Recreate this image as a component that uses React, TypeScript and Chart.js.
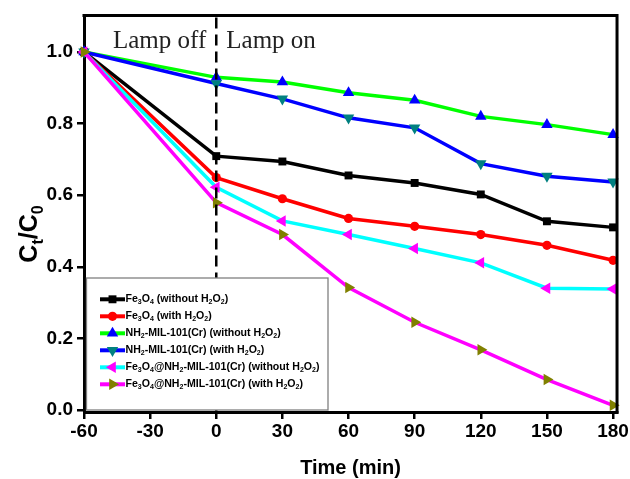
import { useEffect, useRef } from 'react';
import { Chart, registerables } from 'chart.js';

Chart.register(...registerables);

// ---------- data ----------
const times = [-60, 0, 30, 60, 90, 120, 150, 180];
const fe3o4Without = [1.0, 0.709, 0.694, 0.655, 0.634, 0.602, 0.527, 0.51];
const fe3o4With = [1.0, 0.649, 0.59, 0.535, 0.513, 0.49, 0.46, 0.418];
const milWithout = [1.0, 0.929, 0.916, 0.886, 0.865, 0.82, 0.797, 0.769];
const milWith = [1.0, 0.912, 0.869, 0.816, 0.788, 0.688, 0.653, 0.637];
const compositeWithout = [1.0, 0.622, 0.528, 0.49, 0.451, 0.411, 0.34, 0.338];
const compositeWith = [1.0, 0.579, 0.49, 0.342, 0.245, 0.168, 0.085, 0.013];

const xTicks = [-60, -30, 0, 30, 60, 90, 120, 150, 180];
const yTicks = [0, 0.2, 0.4, 0.6, 0.8, 1.0];

// legend labels as [text, isSubscript] segments
type Seg = [string, boolean];
const legendLabels: Seg[][] = [
  [['Fe', false], ['3', true], ['O', false], ['4', true], [' (without H', false], ['2', true], ['O', false], ['2', true], [')', false]],
  [['Fe', false], ['3', true], ['O', false], ['4', true], [' (with H', false], ['2', true], ['O', false], ['2', true], [')', false]],
  [['NH', false], ['2', true], ['-MIL-101(Cr) (without H', false], ['2', true], ['O', false], ['2', true], [')', false]],
  [['NH', false], ['2', true], ['-MIL-101(Cr) (with H', false], ['2', true], ['O', false], ['2', true], [')', false]],
  [['Fe', false], ['3', true], ['O', false], ['4', true], ['@NH', false], ['2', true], ['-MIL-101(Cr) (without H', false], ['2', true], ['O', false], ['2', true], [')', false]],
  [['Fe', false], ['3', true], ['O', false], ['4', true], ['@NH', false], ['2', true], ['-MIL-101(Cr) (with H', false], ['2', true], ['O', false], ['2', true], [')', false]],
];
const yTitle: Seg[] = [['C', false], ['t', true], ['/C', false], ['0', true]];
const xTitle = 'Time (min)';
const lampOff = 'Lamp off';
const lampOn = 'Lamp on';

const seriesValues = [fe3o4Without, fe3o4With, milWithout, milWith, compositeWithout, compositeWith];

// ---------- styles ----------
type Style = { line: string; marker: string; shape: 'rect' | 'circle' | 'triangle'; rot: number; r: number };
const styles: Style[] = [
  { line: '#000000', marker: '#000000', shape: 'rect', rot: 0, r: 5.6 },
  { line: '#ff0000', marker: '#ff0000', shape: 'circle', rot: 0, r: 4.6 },
  { line: '#00ff00', marker: '#0000ff', shape: 'triangle', rot: 0, r: 6.6 },
  { line: '#0000ff', marker: '#008080', shape: 'triangle', rot: 180, r: 6.6 },
  { line: '#00ffff', marker: '#ff00ff', shape: 'triangle', rot: 270, r: 6.6 },
  { line: '#ff00ff', marker: '#808000', shape: 'triangle', rot: 90, r: 6.6 },
];

const SANS = '"Liberation Sans", Arial, sans-serif';
const SERIF = '"Liberation Serif", "Times New Roman", serif';

function drawMarker(ctx: CanvasRenderingContext2D, s: Style, x: number, y: number) {
  ctx.fillStyle = s.marker;
  ctx.beginPath();
  if (s.shape === 'rect') {
    const h = s.r * Math.SQRT1_2;
    ctx.rect(x - h, y - h, 2 * h, 2 * h);
  } else if (s.shape === 'circle') {
    ctx.arc(x, y, s.r, 0, Math.PI * 2);
  } else {
    let a = (s.rot * Math.PI) / 180;
    ctx.moveTo(x + Math.sin(a) * s.r, y - Math.cos(a) * s.r);
    a += (2 * Math.PI) / 3;
    ctx.lineTo(x + Math.sin(a) * s.r, y - Math.cos(a) * s.r);
    a += (2 * Math.PI) / 3;
    ctx.lineTo(x + Math.sin(a) * s.r, y - Math.cos(a) * s.r);
    ctx.closePath();
  }
  ctx.fill();
}

function segWidth(ctx: CanvasRenderingContext2D, segs: Seg[], main: string, sub: string) {
  let w = 0;
  for (const [t, isSub] of segs) {
    ctx.font = isSub ? sub : main;
    w += ctx.measureText(t).width;
  }
  return w;
}

function drawSegs(ctx: CanvasRenderingContext2D, segs: Seg[], x: number, y: number, main: string, sub: string, subOffset: number) {
  let cx = x;
  for (const [t, isSub] of segs) {
    ctx.font = isSub ? sub : main;
    ctx.fillText(t, cx, isSub ? y + subOffset : y);
    cx += ctx.measureText(t).width;
  }
}

const decorPlugin = {
  id: 'decor',
  afterDatasetsDraw(chart: any) {
    const { ctx, chartArea: a, scales } = chart;
    const x0 = scales.x.getPixelForValue(0);
    ctx.save();

    // dashed "lamp" divider
    ctx.strokeStyle = '#000';
    ctx.lineWidth = 2.5;
    ctx.setLineDash([11, 6]);
    ctx.beginPath();
    ctx.moveTo(x0, a.top + 2);
    ctx.lineTo(x0, a.bottom);
    ctx.stroke();
    ctx.setLineDash([]);

    // top and right frame
    ctx.lineWidth = 3;
    ctx.beginPath();
    ctx.moveTo(a.left - 1.5, a.top);
    ctx.lineTo(a.right, a.top);
    ctx.lineTo(a.right, a.bottom + 1.5);
    ctx.stroke();

    // lamp labels
    ctx.fillStyle = '#222';
    ctx.font = `25px ${SERIF}`;
    ctx.textBaseline = 'alphabetic';
    ctx.textAlign = 'right';
    ctx.fillText(lampOff, x0 - 10, 48);
    ctx.textAlign = 'left';
    ctx.fillText(lampOn, x0 + 10, 48);

    // legend box
    const bx = 86.5, by = 278, bw = 241.5, bh = 132;
    ctx.fillStyle = '#ffffff';
    ctx.fillRect(bx, by, bw, bh);
    ctx.strokeStyle = '#808080';
    ctx.lineWidth = 1.3;
    ctx.strokeRect(bx, by, bw, bh);

    const main = `bold 10.6px ${SANS}`;
    const sub = `bold 7px ${SANS}`;
    legendLabels.forEach((segs, i) => {
      const s = styles[i];
      const y = 299.3 + i * 17;
      ctx.strokeStyle = s.line;
      ctx.lineWidth = 4;
      ctx.beginPath();
      ctx.moveTo(100, y);
      ctx.lineTo(125, y);
      ctx.stroke();
      drawMarker(ctx, s, 112.5, y);
      ctx.fillStyle = '#000';
      ctx.textAlign = 'left';
      ctx.textBaseline = 'middle';
      drawSegs(ctx, segs, 125.5, y, main, sub, 3);
    });

    // x title
    ctx.fillStyle = '#000';
    ctx.textBaseline = 'alphabetic';
    ctx.textAlign = 'center';
    ctx.font = `bold 20px ${SANS}`;
    ctx.fillText(xTitle, (a.left + a.right) / 2, 474);

    // y title (rotated, with subscripts)
    const ym = `bold 25px ${SANS}`;
    const ys = `bold 16px ${SANS}`;
    ctx.translate(37, 234);
    ctx.rotate(-Math.PI / 2);
    ctx.textAlign = 'left';
    const w = segWidth(ctx, yTitle, ym, ys);
    drawSegs(ctx, yTitle, -w / 2, 0, ym, ys, 6);

    ctx.restore();
  },
};

export default function App() {
  const ref = useRef<HTMLCanvasElement | null>(null);

  useEffect(() => {
    if (!ref.current) return;
    const tickFont = { family: SANS, size: 19, weight: 'bold' as const };
    const chart = new Chart(ref.current, {
      type: 'line',
      data: {
        datasets: seriesValues.map((vals, i) => {
          const s = styles[i];
          return {
            data: times.map((t, j) => ({ x: t, y: vals[j] })),
            borderColor: s.line,
            borderWidth: 3.5,
            pointStyle: s.shape,
            pointRotation: s.rot,
            pointRadius: s.r,
            pointHoverRadius: s.r,
            pointBackgroundColor: s.marker,
            pointBorderColor: s.marker,
            pointBorderWidth: 0,
            tension: 0,
            fill: false,
            clip: false as any,
            order: 6 - i,
          };
        }),
      },
      options: {
        animation: false,
        responsive: false,
        devicePixelRatio: 1,
        layout: { padding: { top: 15, right: 12, left: 0, bottom: 0 } },
        plugins: { legend: { display: false }, tooltip: { enabled: false } },
        events: [],
        scales: {
          x: {
            type: 'linear',
            min: -60,
            max: 181.8,
            afterBuildTicks: (s: any) => {
              s.ticks = xTicks.map((v) => ({ value: v }));
            },
            afterFit: (s: any) => {
              s.height = 67;
            },
            ticks: {
              font: tickFont,
              color: '#000',
              padding: 1,
              maxRotation: 0,
              autoSkip: false,
              callback: (v: any) => String(v),
            },
            grid: { drawOnChartArea: false, drawTicks: true, tickLength: 7, color: '#000', lineWidth: 2.5 },
            border: { display: true, color: '#000', width: 3 },
          },
          y: {
            type: 'linear',
            min: -0.0056,
            max: 1.102,
            afterBuildTicks: (s: any) => {
              s.ticks = yTicks.map((v) => ({ value: v }));
            },
            afterFit: (s: any) => {
              s.width = 84;
            },
            ticks: {
              font: tickFont,
              color: '#000',
              padding: 4,
              autoSkip: false,
              callback: (v: any) => Number(v).toFixed(1),
            },
            grid: { drawOnChartArea: false, drawTicks: true, tickLength: 7, color: '#000', lineWidth: 2.5 },
            border: { display: true, color: '#000', width: 3 },
          },
        },
      },
      plugins: [decorPlugin],
    });
    return () => chart.destroy();
  }, []);

  return (
    <div style={{ position: 'absolute', left: 0, top: 0, width: 630, height: 479, background: '#fff' }}>
      <canvas ref={ref} width={630} height={479} style={{ width: 630, height: 479, display: 'block' }} />
    </div>
  );
}
